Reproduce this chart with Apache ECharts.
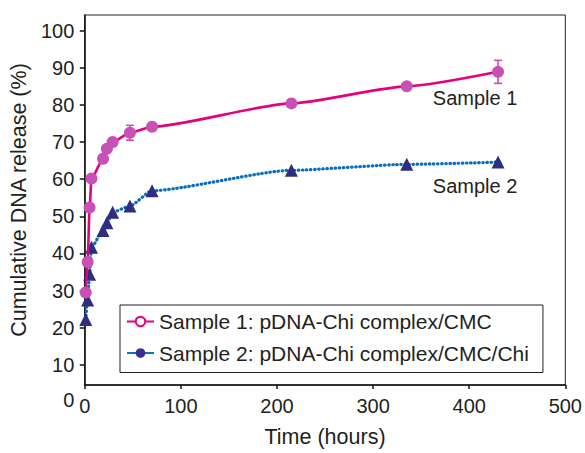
<!DOCTYPE html>
<html><head><meta charset="utf-8">
<script src="https://cdn.jsdelivr.net/npm/echarts@6/dist/echarts.min.js"></script>
<style>html,body{margin:0;padding:0;background:#fff}#c{width:585px;height:453px}</style>
</head><body><div id="c"></div>
<script>
// ---- data ----
const times = [1, 3, 5, 7, 19, 23, 29, 47, 70, 215, 335, 430];
const sample1 = [29.5, 37.7, 52.4, 60.2, 65.5, 68.2, 70.0, 72.5, 74.1, 80.4, 85.0, 88.9];
const sample1Err = [0, 0, 0, 0, 1.0, 0.9, 0, 2.0, 0, 0, 0, 3.1];
const sample2 = [22.2, 27.5, 34.4, 41.7, 46.2, 48.3, 51.1, 52.8, 56.9, 62.4, 64.0, 64.6];
const xTicks = [0, 100, 200, 300, 400, 500];
const yTicks = [10, 20, 30, 40, 50, 60, 70, 80, 90, 100];
const yZeroLabel = 0;
const legendNames = ['Sample 1: pDNA-Chi complex/CMC', 'Sample 2: pDNA-Chi complex/CMC/Chi'];
const curveLabels = ['Sample 1', 'Sample 2'];
const xName = 'Time (hours)';
const yName = 'Cumulative DNA release (%)';

// ---- chart ----
const FONT = '"Liberation Sans", Arial, sans-serif';
const TXT = '#231f20';
const FS = 20;     // tick labels / curve labels
const FSN = 21.5;  // axis names
const FSL = 21;    // legend
const chart = echarts.init(document.getElementById('c'), null, {renderer: 'svg'});

function withLastLabel(vals, label) {
  return vals.map((v, i) => i === vals.length - 1
    ? {value: [times[i], v], label: {show: true, formatter: label}}
    : [times[i], v]);
}
const errData = times.map((t, i) => [t, sample1[i], sample1Err[i]]);
const txt = (size) => ({fontSize: size, color: TXT, fontFamily: FONT, fontWeight: 'normal'});

const option = {
  animation: false,
  backgroundColor: '#fff',
  textStyle: {fontFamily: FONT, color: TXT, fontWeight: 'normal'},
  grid: {left: 82.5, right: 19.5, top: 15, bottom: 64.5, show: true, borderColor: '#222', borderWidth: 1},
  xAxis: {
    type: 'value', min: xTicks[0], max: xTicks[xTicks.length - 1], interval: 100,
    name: xName, nameLocation: 'middle', nameGap: 41,
    nameTextStyle: txt(FSN),
    axisLine: {show: true, lineStyle: {color: '#111', width: 1.5}},
    axisTick: {show: true, length: 4, lineStyle: {color: '#111', width: 1.5}},
    axisLabel: Object.assign(txt(FS), {margin: 10.5}),
    splitLine: {show: false}
  },
  yAxis: {
    type: 'value', min: 4.6, max: 104.2,
    name: yName, nameLocation: 'middle', nameGap: 53,
    nameTextStyle: txt(FSN),
    axisLine: {show: true, lineStyle: {color: '#111', width: 1.5}},
    axisTick: {show: true, length: 5, customValues: yTicks, lineStyle: {color: '#111', width: 1.5}},
    axisLabel: Object.assign(txt(FS), {margin: 10.5, customValues: yTicks}),
    splitLine: {show: false}
  },
  legend: {
    orient: 'vertical', left: 120, top: 305,
    padding: [6, 14, 9, 6], itemGap: 10.5, itemWidth: 27, itemHeight: 12,
    borderColor: '#222', borderWidth: 1, backgroundColor: '#fff',
    textStyle: txt(FSL),
    data: legendNames
  },
  series: [
    {
      name: 'S2', type: 'line', data: withLastLabel(sample2, curveLabels[1]),
      smooth: 0.2, smoothMonotone: 'x',
      symbol: 'triangle', symbolSize: 13,
      lineStyle: {color: '#0a6cbd', width: 3.2, type: [0.5, 3.6], cap: 'round'},
      itemStyle: {color: '#2e2d80'},
      label: Object.assign(txt(FS), {show: false, position: 'bottom', offset: [-23, 2]}),
      z: 2
    },
    {
      name: 'S1', type: 'line', data: withLastLabel(sample1, curveLabels[0]),
      smooth: 0.2, smoothMonotone: 'x',
      symbol: 'circle', symbolSize: 12,
      lineStyle: {color: '#e4007f', width: 2.6},
      itemStyle: {color: '#c751b4'},
      label: Object.assign(txt(FS), {show: false, position: 'bottom', offset: [-23, 5]}),
      z: 3
    },
    {
      name: 'S1err', type: 'custom', data: errData, z: 4,
      encode: {x: 0, y: 1},
      renderItem: function (params, api) {
        const e = api.value(2);
        if (!e) return null;
        const x = api.value(0), y = api.value(1);
        const p = api.coord([x, y + e]), q = api.coord([x, y - e]);
        const w = 4, st = {stroke: '#c751b4', lineWidth: 1.6};
        return {type: 'group', children: [
          {type: 'line', shape: {x1: p[0], y1: p[1], x2: q[0], y2: q[1]}, style: st},
          {type: 'line', shape: {x1: p[0] - w, y1: p[1], x2: p[0] + w, y2: p[1]}, style: st},
          {type: 'line', shape: {x1: q[0] - w, y1: q[1], x2: q[0] + w, y2: q[1]}, style: st}
        ]};
      }
    },
    {
      name: legendNames[0], type: 'line', data: [],
      symbol: 'emptyCircle', symbolSize: 10,
      lineStyle: {color: '#e4007f', width: 2},
      itemStyle: {color: '#e4007f'}
    },
    {
      name: legendNames[1], type: 'line', data: [],
      symbol: 'circle', symbolSize: 10,
      lineStyle: {color: '#1272c0', width: 2},
      itemStyle: {color: '#3a2e90'}
    }
  ]
};
chart.setOption(option);

// y-axis "0" label sits below the x-axis line in the reference
const y0 = chart.convertToPixel({yAxisIndex: 0}, yZeroLabel);
const x0 = chart.convertToPixel({xAxisIndex: 0}, xTicks[0]);
chart.setOption({
  graphic: [{
    type: 'text', x: x0 - 10.5, y: y0 - 2,
    style: {text: String(yZeroLabel), fontSize: FS, fontFamily: FONT, fill: TXT, align: 'right', verticalAlign: 'middle'}
  }]
});
</script>
</body></html>
